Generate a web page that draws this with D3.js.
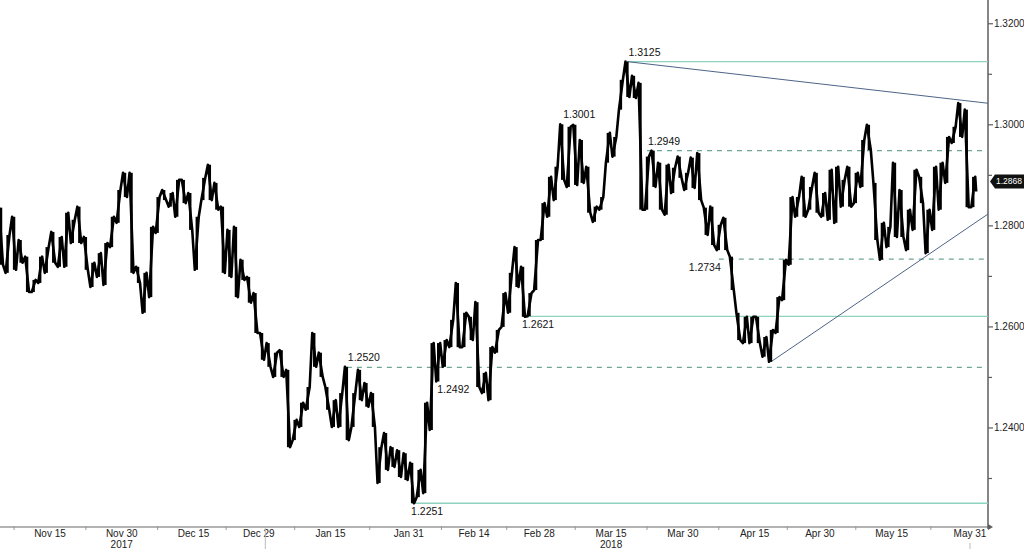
<!DOCTYPE html>
<html>
<head>
<meta charset="utf-8">
<script src="https://cdn.jsdelivr.net/npm/d3@7"></script>
<style>
  body { margin: 0; background: #fff; }
  svg { display: block; font-family: "Liberation Sans", Arial, sans-serif; }
</style>
</head>
<body>
<svg id="chart" width="1024" height="549"></svg>
<script>
// trading days run Nov 3 2017 .. May 31 2018 (weekdays only)
const firstDay = new Date(2017, 10, 3);
const lastDay = new Date(2018, 4, 31);

// daily highs / lows (one per trading day)
const dayHigh = [
    1.2836, 1.2782, 1.2818, 1.2772, 1.2739, 1.2693, 1.2739, 1.2758, 1.2788, 1.2778,
    1.2826, 1.2812, 1.2838, 1.2778, 1.2727, 1.2746, 1.2766, 1.2818, 1.2871, 1.2905,
    1.2905, 1.2719, 1.2707, 1.2798, 1.2857, 1.2871, 1.2865, 1.2891, 1.2891, 1.2865,
    1.2818, 1.2895, 1.2921, 1.2885, 1.2838, 1.2792, 1.2798, 1.2733, 1.2699, 1.2667,
    1.2588, 1.2568, 1.2549, 1.2554, 1.2515, 1.2416, 1.2450, 1.2481, 1.2588, 1.2549,
    1.2481, 1.2455, 1.2469, 1.2521, 1.2469, 1.2515, 1.2489, 1.2469, 1.2362, 1.2390,
    1.2362, 1.2356, 1.2350, 1.2331, 1.2317, 1.2450, 1.2568, 1.2568, 1.2574, 1.2614,
    1.2687, 1.2628, 1.2620, 1.2649, 1.2509, 1.2560, 1.2594, 1.2667, 1.2707, 1.2758,
    1.2719, 1.2667, 1.2772, 1.2845, 1.2897, 1.2917, 1.3001, 1.2996, 1.3000, 1.2970,
    1.2917, 1.2838, 1.2857, 1.2984, 1.2976, 1.3089, 1.3125, 1.3097, 1.3083, 1.2937,
    1.2949, 1.2925, 1.2921, 1.2915, 1.2937, 1.2905, 1.2935, 1.2944, 1.2836, 1.2838,
    1.2802, 1.2816, 1.2739, 1.2628, 1.2620, 1.2620, 1.2620, 1.2580, 1.2594, 1.2659,
    1.2733, 1.2857, 1.2857, 1.2897, 1.2877, 1.2905, 1.2865, 1.2911, 1.2917, 1.2891,
    1.2917, 1.2905, 1.2970, 1.3000, 1.2885, 1.2806, 1.2798, 1.2925, 1.2871, 1.2832,
    1.2911, 1.2897, 1.2832, 1.2917, 1.2925, 1.2976, 1.2996, 1.3043, 1.3030, 1.2897
];
const dayLow = [
    1.2723, 1.2707, 1.2713, 1.2727, 1.2669, 1.2669, 1.2687, 1.2707, 1.2727, 1.2719,
    1.2719, 1.2766, 1.2766, 1.2713, 1.2679, 1.2699, 1.2683, 1.2758, 1.2806, 1.2857,
    1.2707, 1.2687, 1.2628, 1.2659, 1.2786, 1.2851, 1.2838, 1.2818, 1.2845, 1.2792,
    1.2713, 1.2851, 1.2851, 1.2832, 1.2707, 1.2699, 1.2659, 1.2693, 1.2648, 1.2588,
    1.2535, 1.2521, 1.2501, 1.2501, 1.2362, 1.2376, 1.2402, 1.2436, 1.2521, 1.2501,
    1.2436, 1.2402, 1.2402, 1.2376, 1.2402, 1.2455, 1.2442, 1.2402, 1.2291, 1.2317,
    1.2323, 1.2303, 1.2297, 1.2251, 1.2263, 1.2271, 1.2396, 1.2492, 1.2521, 1.2560,
    1.2560, 1.2560, 1.2574, 1.2481, 1.2469, 1.2455, 1.2549, 1.2600, 1.2628, 1.2679,
    1.2620, 1.2621, 1.2673, 1.2772, 1.2818, 1.2851, 1.2891, 1.2877, 1.2881, 1.2885,
    1.2826, 1.2808, 1.2832, 1.2925, 1.2937, 1.3030, 1.3055, 1.3053, 1.2832, 1.2832,
    1.2877, 1.2832, 1.2822, 1.2865, 1.2895, 1.2871, 1.2875, 1.2851, 1.2782, 1.2762,
    1.2752, 1.2752, 1.2673, 1.2574, 1.2568, 1.2568, 1.2568, 1.2541, 1.2531, 1.2588,
    1.2653, 1.2723, 1.2818, 1.2818, 1.2832, 1.2826, 1.2818, 1.2812, 1.2806, 1.2838,
    1.2838, 1.2845, 1.2877, 1.2950, 1.2772, 1.2733, 1.2758, 1.2778, 1.2778, 1.2752,
    1.2792, 1.2845, 1.2746, 1.2792, 1.2832, 1.2885, 1.2964, 1.2976, 1.2837, 1.2837
];
const lastPrice = 1.2868;

const xTickDates = ["2017-11-15", "2017-11-30", "2017-12-15", "2017-12-29", "2018-01-15", "2018-01-31", "2018-02-14",
    "2018-02-28", "2018-03-15", "2018-03-30", "2018-04-15", "2018-04-30", "2018-05-15", "2018-05-31"];
const yearLabels = [["2017", "2017-11-30"], ["2018", "2018-03-15"]];
const yMajorTicks = [1.2400, 1.2600, 1.2800, 1.3000, 1.3200];
const yMinorTicks = [1.2300, 1.2500, 1.2700, 1.2900, 1.3100];

// horizontal support / resistance levels: value, start date, dashed?
const levelValues = [1.3125, 1.2949, 1.2734, 1.2621, 1.2520, 1.2251];
const levelStarts = ["2018-03-19", "2018-03-22", "2018-04-06", "2018-02-26", "2018-01-17", "2018-01-31"];
const levelDashed = [false, true, true, false, true, false];

// price callouts: value, date of the pivot, where the text sits
const calloutValues = [1.3125, 1.3001, 1.2949, 1.2734, 1.2621, 1.2520, 1.2492, 1.2251];
const calloutDates = ["2018-03-19", "2018-03-05", "2018-03-22", "2018-04-06", "2018-02-23", "2018-01-17", "2018-02-06", "2018-01-31"];
const calloutPlace = ["above", "above", "above", "belowLeft", "below", "above", "below", "below"];

// trend lines, two anchors each: [date, value]
const trendLines = [
    [["2018-03-19", 1.3125], ["2018-05-29", 1.3049]],
    [["2018-04-18", 1.2531], ["2018-05-22", 1.2742]]
];

const width = 1024, height = 549;
const plotRight = 988, plotBottom = 527;

const svg = d3.select("#chart");
const parse = d3.timeParse("%Y-%m-%d");
const fmtTick = d3.timeFormat("%b %-d");

const tradingDays = d3.timeDay.range(firstDay, d3.timeDay.offset(lastDay, 1))
    .filter(d => d.getDay() !== 0 && d.getDay() !== 6);
const dayIndex = function (s) {
    const d = parse(s);
    return d3.bisectLeft(tradingDays, d);
};

const x = d3.scaleLinear().domain([0.341, 151.76]).range([0, plotRight]);
const y = d3.scaleLinear().domain([1.2204, 1.3247]).range([plotBottom, 0]);

// ---- axes
svg.append("line")
    .attr("x1", 0).attr("x2", plotRight)
    .attr("y1", plotBottom).attr("y2", plotBottom)
    .attr("stroke", "#9a9a9a").attr("stroke-width", 1.5);
svg.append("line")
    .attr("x1", plotRight).attr("x2", plotRight)
    .attr("y1", 0).attr("y2", plotBottom + 2)
    .attr("stroke", "#5e5e5e").attr("stroke-width", 1.5);
svg.append("path")
    .attr("d", `M${plotRight},${plotBottom - 3}L${plotRight + 5},${plotBottom}L${plotRight},${plotBottom + 3}Z`)
    .attr("fill", "#5e5e5e");

const yAxisG = svg.append("g");
yAxisG.selectAll("line.major").data(yMajorTicks).enter().append("line")
    .attr("x1", plotRight).attr("x2", plotRight + 5)
    .attr("y1", d => y(d)).attr("y2", d => y(d))
    .attr("stroke", "#5e5e5e").attr("stroke-width", 1.2);
yAxisG.selectAll("line.minor").data(yMinorTicks).enter().append("line")
    .attr("x1", plotRight).attr("x2", plotRight + 4)
    .attr("y1", d => y(d)).attr("y2", d => y(d))
    .attr("stroke", "#5e5e5e").attr("stroke-width", 1.2);
yAxisG.selectAll("text").data(yMajorTicks).enter().append("text")
    .attr("x", plotRight + 6)
    .attr("y", d => y(d))
    .attr("dy", "0.35em")
    .attr("font-size", 10)
    .attr("fill", "#222")
    .text(d => d3.format(".4f")(d));

const labelX = xTickDates.map(s => x(dayIndex(s)));
const tickX = [labelX[0] - (labelX[1] - labelX[0]) / 2];
for (let i = 1; i < labelX.length; i++) tickX.push((labelX[i - 1] + labelX[i]) / 2);

svg.selectAll("line.xtick").data(tickX).enter().append("line")
    .attr("x1", d => d).attr("x2", d => d)
    .attr("y1", plotBottom - 1).attr("y2", plotBottom + 3)
    .attr("stroke", "#9a9a9a");
svg.selectAll("text.xlab").data(xTickDates).enter().append("text")
    .attr("x", d => x(dayIndex(d)))
    .attr("y", plotBottom + 10)
    .attr("text-anchor", "middle")
    .attr("font-size", 10)
    .attr("fill", "#222")
    .text(d => fmtTick(parse(d)));
svg.selectAll("text.year").data(yearLabels).enter().append("text")
    .attr("x", d => x(dayIndex(d[1])))
    .attr("y", plotBottom + 21)
    .attr("text-anchor", "middle")
    .attr("font-size", 10)
    .attr("fill", "#222")
    .text(d => d[0]);

// year break and last-date marker under the axis
const yearBreak = (x(dayIndex("2017-12-29")) + x(dayIndex("2018-01-02"))) / 2;
svg.append("line")
    .attr("x1", yearBreak).attr("x2", yearBreak)
    .attr("y1", plotBottom).attr("y2", height)
    .attr("stroke", "#bbb");
svg.append("line")
    .attr("x1", x(tradingDays.length - 1)).attr("x2", x(tradingDays.length - 1))
    .attr("y1", plotBottom + 16).attr("y2", height)
    .attr("stroke", "#bbb");

// ---- levels
const levels = levelValues.map((v, i) => ({value: v, start: dayIndex(levelStarts[i]) + 0.5, dashed: levelDashed[i]}));
svg.selectAll("line.level").data(levels).enter().append("line")
    .attr("x1", d => x(d.start)).attr("x2", plotRight)
    .attr("y1", d => y(d.value)).attr("y2", d => y(d.value))
    .attr("stroke", d => d.dashed ? "#6fa596" : "#8ed3bf")
    .attr("stroke-width", 1.3)
    .attr("stroke-dasharray", d => d.dashed ? "5,5" : null);

// ---- trend lines, extended to the right edge
trendLines.forEach(function (t) {
    const k0 = dayIndex(t[0][0]) + 0.5, k1 = dayIndex(t[1][0]) + 0.5;
    const slope = (t[1][1] - t[0][1]) / (k1 - k0);
    const kEnd = x.domain()[1];
    svg.append("line")
        .attr("x1", x(k0)).attr("y1", y(t[0][1]))
        .attr("x2", x(kEnd)).attr("y2", y(t[0][1] + slope * (kEnd - k0)))
        .attr("stroke", "#4e6487").attr("stroke-width", 1);
});

// ---- price: a day's range bar plus two swings per trading day
svg.append("g").selectAll("line").data(dayHigh).enter().append("line")
    .attr("x1", (d, i) => x(i + 0.5)).attr("x2", (d, i) => x(i + 0.5))
    .attr("y1", d => y(d)).attr("y2", (d, i) => y(dayLow[i]))
    .attr("stroke", "#000").attr("stroke-width", 2.4);

const mids = dayHigh.map((h, i) => (h + dayLow[i]) / 2);
const pts = [];
dayHigh.forEach(function (h, i) {
    const next = i < dayHigh.length - 1 ? mids[i + 1] : lastPrice;
    const up = next >= mids[i];
    const a = up ? dayLow[i] : h, b = up ? h : dayLow[i];
    pts.push([x(i + 0.2), y(a)]);
    pts.push([x(i + 0.8), y(b)]);
});
pts.push([x(dayHigh.length - 0.05), y(lastPrice)]);

svg.append("path")
    .attr("d", d3.line()(pts))
    .attr("fill", "none")
    .attr("stroke", "#000")
    .attr("stroke-width", 2.6)
    .attr("stroke-linejoin", "round");

// ---- callouts
const callouts = calloutValues.map((v, i) => ({value: v, k: dayIndex(calloutDates[i]) + 0.5, place: calloutPlace[i]}));
svg.selectAll("text.callout").data(callouts).enter().append("text")
    .attr("x", function (d) {
        if (d.place === "belowLeft") return x(d.k) + 2;
        if (d.place === "below") return x(d.k) - 1;
        return x(d.k) + 1;
    })
    .attr("y", d => d.place === "above" ? y(d.value) - 6 : y(d.value) + 12)
    .attr("text-anchor", d => d.place === "belowLeft" ? "end" : "start")
    .attr("font-size", 10.5)
    .attr("fill", "#111")
    .text(d => d3.format(".4f")(d.value));

// ---- last price tag
const tagY = y(lastPrice) - 10;
svg.append("path")
    .attr("d", `M${plotRight + 2},${tagY}L${plotRight + 7},${tagY - 7}L${width},${tagY - 7}L${width},${tagY + 7}L${plotRight + 7},${tagY + 7}Z`)
    .attr("fill", "#111");
svg.append("text")
    .attr("x", plotRight + 8)
    .attr("y", tagY)
    .attr("dy", "0.35em")
    .attr("font-size", 8.5)
    .attr("fill", "#fff")
    .text(d3.format(".4f")(lastPrice));
</script>
</body>
</html>
